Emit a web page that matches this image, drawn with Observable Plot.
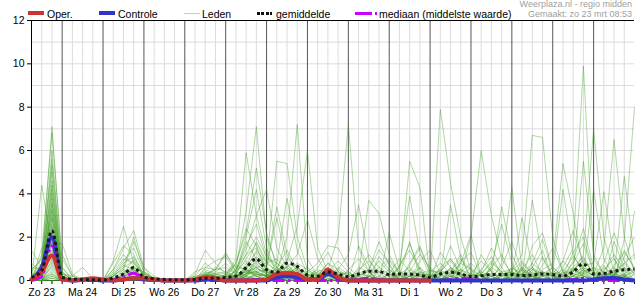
<!DOCTYPE html>
<html><head><meta charset="utf-8">
<script src="https://cdn.jsdelivr.net/npm/d3@7"></script>
<script src="https://cdn.jsdelivr.net/npm/@observablehq/plot@0.6"></script>
<style>
body{margin:0;background:#fff;font-family:"Liberation Sans",Arial,sans-serif;}
#wrap{position:relative;width:635px;height:300px;overflow:hidden;}
#wrap svg{display:block;}
#legend{position:absolute;left:0;top:0;width:635px;height:20px;pointer-events:none;}
.sw{position:absolute;top:12px;height:3px;}
.lt{position:absolute;top:8px;font-size:10.5px;line-height:12px;color:#000;white-space:nowrap;}
.info{position:absolute;right:3px;font-size:9px;line-height:10px;color:#a0a0a0;white-space:nowrap;text-align:right;}
</style></head>
<body><div id="wrap"><div id="legend"></div></div>
<script>
// tijdstappen (uren vanaf zo 23 00:00), 6-uurlijks
const hours = d3.range(60).map(i => 6 + 6 * i);
const dayLabels = ["Zo 23","Ma 24","Di 25","Wo 26","Do 27","Vr 28","Za 29","Zo 30","Ma 31","Di 1","Wo 2","Do 3","Vr 4","Za 5","Zo 6"];
const yTicks = [0,2,4,6,8,10,12];
const legendLabels = ["Oper.","Controle","Leden","gemiddelde","mediaan (middelste waarde)"];
const infoLines = ["Weerplaza.nl - regio midden","Gemaakt: zo 23 mrt 08:53"];

const oper = [0.05,0.4,1.15, 0.05,0,0.05,0.1, 0.05,0,0.05,0.1, 0.1,0.05,0,0, 0,0.05,0.15,0.1, 0,0,0,0, 0.05,0.3,0.35,0.3, 0.05,0.05,0.5,0.15, 0,0,0,0, 0,0,0,0, 0];
const controle = [0.05,0.6,2.0, 0.05,0,0.03,0.05, 0,0,0.05,0.1, 0.05,0.05,0,0, 0,0,0.05,0.05, 0,0,0,0, 0,0.15,0.2,0.15, 0.05,0.05,0.3,0.1, 0,0,0,0, 0,0,0,0, 0,0,0,0, 0,0,0,0, 0,0,0,0, 0,0,0,0, 0.05,0.1,0.12,0.05, 0];
const mediaan = [0,0.2,1.6, 0,0,0,0, 0,0.05,0.15,0.35, 0.05,0,0,0, 0,0,0,0, 0,0,0.05,0.05, 0,0,0,0, 0,0,0,0, 0,0.05,0.1,0.05, 0,0,0,0, 0,0,0.05,0.1, 0.05,0,0,0, 0,0,0,0, 0,0,0.05,0.1, 0,0,0,0, 0];
const gemiddelde = [0.15,0.46,2.3, 0.15,0.06,0.05,0.03, 0.02,0.12,0.3,0.6, 0.15,0.08,0.05,0.03, 0.03,0.05,0.1,0.1, 0.15,0.2,0.6,1.0, 0.5,0.38,0.8,0.65, 0.25,0.2,0.4,0.3, 0.18,0.3,0.43,0.42, 0.28,0.3,0.3,0.25, 0.15,0.3,0.38,0.3, 0.18,0.22,0.28,0.28, 0.28,0.23,0.25,0.3, 0.28,0.2,0.4,0.77, 0.3,0.32,0.43,0.5, 0.52];

const leden = [
[0.2,0.8,7.1, 0.6,0.1,0,0, 0,0,0.3,0.5, 0.2,0,0,0, 0,0,0,0, 0,0.3,1.2,2.0, 1.1,0.5,0.3,0.6, 0.3,0.1,0,0, 0,0.2,0.5,1.4, 0.8,0,0,0.4, 0.2,0.3,1.6,0.5, 0,0,0.2,0.6, 1.8,0.4,0,0, 0,0,0.4,1.0, 0.3,0,0,0.2, 0.5],
[0,1.2,6.8, 1.0,0.2,0.1,0, 0,0.2,0.8,1.1, 0.3,0.1,0,0, 0,0.1,0.5,0.3, 0.2,1.0,5.9,3.0, 1.2,0.6,0.2,0, 0,0,0.2,0.4, 0.3,0,0,1.1, 0.5,0.2,1.8,0.2, 0,0,0,0, 0.1,0.4,1.5,0.6, 0,0,0.5,0.2, 0,0.1,0.9,2.4, 0.6,0.4,1.2,0.5, 0],
[0.1,0.6,6.0, 0.3,0,0,0, 0,0,0.2,0.4, 0,0,0,0, 0,0.2,0.8,0.4, 0.3,0.6,3.2,7.1, 2.0,0.8,0.4,0.2, 0,0,0.1,0, 0,0,0.2,0.6, 1.0,0.4,0,0, 0,0.2,0.6,0.3, 0,1.2,0.4,0, 0.2,0.8,0.3,0, 0,0,0.2,0.5, 0.2,0,0,1.1, 2.0],
[0,0.5,5.6, 0.4,0,0,0, 0,0.5,1.5,2.3, 0.6,0.2,0,0, 0,0,0.3,0.2, 0.1,0.2,0.5,1.4, 0.8,5.5,5.4,2.0, 0.5,0.2,0,0, 0,0,0,0.1, 0.3,0.1,0,0.9, 1.4,0.3,0,0.4, 0.8,0.3,0,0, 0,0,0,0.2, 0.6,0.2,1.3,2.0, 0.4,0,0.3,0.1, 0],
[0.4,1.0,5.3, 0.2,0,0,0, 0,0,0.1,0.3, 0.1,0,0,0, 0,0,0,0, 0,0.4,2.0,4.2, 1.5,0.3,0.9,2.5, 6.0,1.5,0.4,0.1, 0,0,0,0, 0,0,0.2,0.6, 0.2,0,0,0.8, 2.1,0.2,0.5,0, 0,0,0.6,1.4, 0.1,0.4,1.1,0.5, 0,0,0,0, 0],
[0,0.3,5.0, 0.1,0,0,0, 0,0.8,1.6,1.2, 0.2,0,0,0, 0,0,0,0.1, 0.2,0.1,0.6,1.8, 0.9,0.4,2.0,7.2, 1.0,0.2,0,0, 0,0.4,0.2,0, 0,0,0.7,1.5, 0.4,0,0.2,0.5, 0.3,0,0,0, 0,0.2,0.6,0.3, 0,0,0,0, 0,0,0.2,0.8, 1.2],
[0.2,0.4,4.6, 0,0,0,0, 0,0,0.3,0.6, 0.4,0.1,0,0, 0,0.1,0.4,0.2, 0,0,0.2,0.5, 0.4,0.2,0.1,0, 0,0,0.5,2.0, 7.2,1.5,0.4,0, 0,0,0,0.3, 0.5,0.1,0,0, 0,0,0,0.2, 0.4,0.1,1.6,2.2, 0.5,0,0.3,0.6, 0.2,0,0,0, 0],
[0.1,0.7,4.4, 0.2,0,0,0, 0,0,0,0.2, 0,0,0,0, 0,0,0.2,0.6, 0.4,0.2,0.3,1.0, 0.6,3.4,1.2,0.4, 0.2,0,0,0, 0,0.3,3.7,3.1, 1.2,0.3,0,0, 0,0.6,1.0,0.3, 0,0.3,0.8,0.4, 0,0.5,1.2,0.2, 0,0.2,0.5,0.3, 0,0.7,0,0, 0.3],
[0.6,0.5,4.2, 0.3,0.1,0,0, 0,0.2,0.6,0.9, 0.2,0,0,0, 0,0,0,0, 0,0.5,1.6,2.6, 1.0,0.8,3.8,1.4, 0.3,0,0,0, 0,0,0,0.2, 0.5,0.1,0,0, 0,7.9,4.5,2.0, 0.4,0,0,0, 0,0,0,0, 0.2,0,0,0, 0,0.3,0.6,0.2, 0],
[0,0.2,4.0, 0,0,0,0, 0,0,0.2,0.3, 0,0,0,0, 0,0.3,1.4,0.8, 0.3,0.2,0.4,0.9, 0.5,0.2,0,0, 0.4,0.8,1.6,1.5, 0.6,0.2,0,0, 0,0.3,5.5,4.3, 0.1,0,0,0, 0,0,0.6,1.2, 0.2,0.5,0.1,0, 0,0,0,0.4, 0.6,0.2,0,0, 0],
[0.1,0.3,3.8, 0,0,0,0, 0,0.4,1.0,0.8, 0.2,0,0,0, 0,0,0,0.3, 0.2,0,0.3,0.7, 0.4,0.1,0.3,0.5, 0.2,0,0,0, 0,0,0.2,0.4, 0.2,0,0,0, 0,0,0,0.3, 2.0,6.0,3.0,1.0, 0.3,0,0,0, 0,0,0.2,0.1, 0,0,0,0.3, 0.6],
[0,0.1,3.6, 0.1,0,0,0, 0,0,0,0.1, 0,0,0,0, 0,0,0,0, 0.1,0.8,2.2,5.2, 2.2,0.6,0.2,0, 0,0,0,0.2, 0.4,0.1,0,0, 0,0,0.8,1.6, 0.4,0.4,1.0,0.4, 0,0,0,0, 0.4,0.2,3.7,1.0, 0.2,0,0,0, 0,0,1.8,0.6, 0],
[0.3,0.4,3.5, 0,0,0,0, 0,0,0.1,0.2, 0,0,0,0, 0,0,0.2,0.5, 1.2,0.6,0.5,0.3, 0.2,0.5,0.6,0.3, 0,0,0,0, 0,0.5,0.9,0.4, 0,0,0.2,0.3, 0.1,0,0,0, 0,0,0,0.4, 0.5,1.2,6.7,6.6, 2.0,0.4,0,0, 0,0,0,0, 0],
[0,0.2,3.3, 0,0,0,0, 0,0,0.3,0.5, 0.1,0,0,0, 0,0,0,0, 0,0.3,1.0,1.7, 0.8,0.4,0.6,1.2, 2.8,1.0,0.3,0, 0,0,0,0, 0,0,0.4,1.2, 0.6,0.2,0,0, 0,0,0,0, 0,0.3,0.8,0.4, 0,0.6,1.5,9.9, 1.0,0.3,0,0, 0],
[0.1,0.6,3.2, 0.2,0,0,0, 0,0,0,0, 0,0,0,0, 0,0.4,0.6,0.5, 0.6,0.3,0.1,0.2, 0.3,0.1,0,0, 0,0,0,0.5, 1.2,3.5,1.0,0.2, 0,0,0,0, 0,0,0.3,0.8, 0.5,0,0,0, 0,0,0,0, 0.3,0.9,0.4,1.2, 7.0,2.0,0.4,0, 0],
[0,0.3,3.0, 0,0,0,0, 0,0.1,0.4,0.6, 0.3,0.1,0,0, 0,0,0,0, 0,0,0.5,1.1, 0.6,0.3,0.2,0.4, 0.6,0.3,0.1,0, 0,0,0,0, 0.2,0.6,3.9,1.3, 0.2,0,0,0, 0,0.2,0.1,0, 0,0,0,0.5, 0.8,5.4,3.1,0.5, 0,0,0,0, 0],
[0.8,0.4,2.9, 0.1,0,0,0, 0,0.3,0.7,0.5, 0.1,0,0,0, 0,0,0,0, 0.1,0.2,0.4,0.6, 0.8,1.0,0.5,0.2, 0,0,0,0, 0,0.4,1.2,0.6, 0.3,0,0,0, 0,0,0.5,0.2, 0.6,0.2,0,0, 0.1,0.3,0.2,0, 0,0,0.6,1.1, 0.3,1.5,6.5,2.0, 0.4],
[0,0,2.8, 0,0,0,0, 0,0,0,0, 0,0,0,0, 0,0,0.3,0.2, 0,0,0.2,0.9, 0.4,0.2,0.1,0, 0.2,0.4,0.6,0.2, 0,0,0,0, 2.2,0.5,0,0, 0,0,0,0, 0,0.5,1.1,0.3, 0.4,0.9,0.3,0, 0,0,0,0.2, 0.1,0,0.2,1.4, 0.5],
[0.2,0.2,2.6, 0,0,0,0, 0,0.5,1.2,0.7, 0,0,0,0, 0,0.2,0.3,0, 0,0.5,1.4,3.0, 4.2,1.5,0.6,0.2, 0,0,0,0, 0,0.2,0.4,0, 0,0,0,0, 0,0,0.2,0.3, 0.2,0,0,0.8, 4.3,0.5,0,0, 0,0,0,0, 0,0.2,0.4,0.1, 0],
[0,0.2,2.5, 0.2,0,0,0, 0,0,0,0.1, 0,0,0,0, 0,0,0.1,0.4, 0.8,0.3,0.1,0, 0,0,0,0, 0,0.2,0.8,0.5, 0.2,0,0,0, 0,0,0.1,0.3, 0,0.2,3.5,1.0, 0.2,0,0,0, 0,0,0,0.2, 0.4,4.2,1.2,0.3, 0,0,0,0, 0],
[0.1,0.1,2.4, 0,0,0,0, 0,0.2,0.5,0.3, 0.2,0.1,0,0, 0,0,0,0, 0.1,0.2,0.6,1.3, 0.5,0.3,0.5,0.3, 0,0,0,0, 0.5,1.0,0.4,0, 0,0,0,0.2, 0.3,0,0,0, 0,0,0.3,3.4, 1.2,0.2,0,0, 0,0,0,0.5, 0.2,0.8,2.2,0.9, 0.3],
[0,0.5,2.3, 0.3,0.2,0.6,0.1, 0,0,0,0, 0,0,0,0, 0,0,0,0, 0,0.1,0.3,0.8, 0.3,0.1,0.2,0.5, 0.4,0.2,0,0, 0,0,0,0, 0,0.7,1.4,0.5, 0,0,0,0, 0.3,0.9,0.4,0, 0,0,0,0.3, 0.6,0.2,0.4,5.5, 1.2,0.3,0,0, 0],
[0,0.1,2.2, 0,0,0,0, 0,0,0.2,0.4, 0,0,0,0, 0,0,0,0, 0.2,0.4,0.9,0.6, 0.3,0,0,0, 0,0.3,0.4,0.2, 0,0,0,0, 0,0.3,0.6,0.2, 0,1.3,0.6,0, 0,0,0,0, 0.2,0,0.8,1.9, 0.4,0.3,0.5,0.2, 0,0.4,0.2,0, 3.2],
[0,0,2.1, 0,0,0,0, 0,0,0,0, 0,0,0,0, 0,0,0,0.1, 0.3,0.8,2.4,1.6, 0.4,0.2,0,0, 0,0,0,0, 0,0,0.3,0.9, 0.4,0,0,0, 0.4,0.8,0.3,0, 0,0,0,0, 0.3,2.9,0.6,0, 0,0,0,0, 0,0.5,1.0,0.3, 0],
[0.3,0,2.0, 0,0,0,0, 0,0.3,0.9,1.5, 0.4,0,0,0, 0,0,0,0, 0,0,0.1,0.3, 0.2,0.1,0,0, 0,0.6,1.3,0.4, 0,0,0,0, 0,0,0,0, 0,0,0.4,1.0, 0.5,0.2,0,0, 0,0,0,0.7, 1.5,0.4,0,0, 0,0.6,0.3,0, 0],
[0,1.5,1.9, 0.2,0,0,0, 0,0,0.1,0.2, 0,0,0,0, 0,0,0,0, 0,0.2,0.5,0.2, 0,0,0.4,0.8, 0.5,0.2,0,0, 0,0,0,0, 0,0,0.5,0.2, 0,0,0,0.9, 1.3,0.2,0.3,0.2, 0,0,0,0, 0,0,0,0.3, 4.2,1.0,0.2,0, 0],
[0,0.2,1.8, 0,0,0,0, 0,0,0,0, 0,0,0,0, 0,0,0.2,0.1, 0,0,0.5,0.4, 0.2,0.8,0.4,0.1, 0,0,0,0, 0,1.6,0.7,0, 0,0,0,0, 0.2,0.5,0,0, 0,0,0,0, 0,0.3,0.6,0, 0,0,0.2,0.7, 0.8,4.1,1.0,0.2, 0],
[0,0.3,1.7, 1.7,0.3,0,0, 0,0,0,0, 0,0,0,0, 0,0,0,0, 0,0.3,1.8,1.0, 0.3,0,0,0, 0,0,0,0, 0,0,0,0, 0,0,0,0.6, 0,0,0,0.2, 0.3,0,0.7,2.6, 0.8,0,0,0, 0,0.9,2.3,0.8, 0,0,0.3,0.6, 0.2],
[0,0.8,1.6, 0,0,0,0, 0,0,0,0, 0,0,0,0, 0,0,0,0, 0,0,0.2,0.6, 0.3,0.1,0,0, 0,0,0.4,0.9, 0.4,0,0,0, 0,0,0,0, 0,0.4,0.9,0.3, 0,0,0,0, 0,0.6,0.2,0.4, 0.2,0,0,0, 0,0,0.2,4.8, 1.0],
[0,4.4,1.5, 0.4,0,0,0, 0,0,0,0, 0,0,0,0, 0,0,0,0, 0,0,0,0.3, 0.2,0,0,0, 0,0.2,0.5,0.3, 0,0,0,0, 0.3,1.0,0.4,0, 0,0,0,0, 0,0,0.6,0.3, 0,0,0,0, 0,0.2,0.8,1.7, 0.4,0.2,0,1.9, 8.0],
[1.4,0.6,1.4, 0.2,0,0,0, 0,0,0.5,1.8, 0.6,0,0,0, 0,0,0,0, 0,0.2,0.4,0.2, 0,0.6,1.4,0.5, 0,0,0,0, 0,0,0.2,0.1, 0,0,0,0, 0.5,0.3,0,0, 0,0,0,0, 0.3,0.6,0.2,0, 0,0,0,0, 0,0,0.7,1.3, 0.6],
[0,0.8,1.3, 1.2,0.2,0,0, 0,0,0,0, 0,0,0,0, 0,0,0.6,0.9, 1.1,0.4,0.2,0, 0,0,0,0, 0,0.2,0.8,0.3, 0,0,0,0, 0,0,0.3,0.1, 0,0,0,0, 0,0.3,0.9,0.4, 0,0,0,1.1, 0.2,0.5,0.2,0, 0,0,0,0, 0],
[0.5,1.0,1.2, 0,0,0,0, 0,0,0,0, 0,0,0,0, 0,0,0.4,0.3, 0,0,0.8,0.4, 0.2,0.6,0.3,0, 0,0,0,0, 0,0,0,0, 0,0.6,1.7,0.5, 0,0.5,0.2,0, 0,0,0,0, 0,0,0.4,0.2, 0.3,0,0,0.6, 0.3,0,0,0, 0],
[0,0.4,1.1, 0.6,0,0,0, 0,0.9,2.5,0.8, 0.3,0,0,0, 0,0,0,0, 0,0,0.3,0.4, 0,0,0,0, 0,0,0,0.6, 0.3,0,0,0, 0,0,0,0, 0,0,0.4,1.2, 0,0,0.2,0, 0.6,0.3,0,0, 0,0,0,0, 0,0,0.5,0.2, 0],
[0,0,1.0, 0,0,0,0, 0,0,0.3,1.0, 0.2,0,0,0, 0,0,0.3,0.5, 1.3,0.4,0,0, 0,0,0.7,0.3, 0,0,0,0, 0,0,0.5,1.8, 0.7,0,0,0, 0,0,0.3,0.5, 0.2,0,0,0, 0,0,0,0, 0,0,0.5,0.9, 0.4,0,0,0, 0],
[0,0.2,0.9, 0,0,0,0, 0,0.2,0.6,2.0, 0.4,0.1,0,0, 0,0,0,0, 0,0,0,0, 0.6,2.9,0.8,0.2, 0,0,0,0, 0,0,0,0, 0,0.2,0,0, 0,0,0,0, 0,0,0,0.3, 0.4,0,0,0, 0,0.3,0.6,0.2, 0,0.4,0.2,0, 0],
[0.1,0,0.8, 0,0,0,0, 0,0,0,0, 0,0,0,0, 0,0.1,0.2,0.3, 0.4,0.7,0.5,0.2, 0,0,0,0, 0.2,0.5,0.3,0.1, 0,0,0,0, 0,0,0.2,0.4, 0,0,0,0, 0.3,0.2,0,0, 0,0,0,0, 0,0,0,0.3, 0.5,0.2,0,0, 0],
[0,0,0.7, 0,0,0,0, 0,0,0,0, 0,0,0,0, 0,0,0,0, 0.1,0.5,1.2,1.5, 0.6,0.2,0,0, 0,0,0,0, 0,0,0,0.4, 0.9,0.3,0,0, 0,0,0.2,0.1, 0,0,0,0, 0,0,0.5,0.3, 0,0.4,0,0, 0,0.2,0.4,0.8, 0.3],
[0,0.1,0.6, 0,0,0,0, 0,0,0.2,0.5, 0,0,0,0, 0,0,0.2,0.1, 0,0,0,0, 0.2,0.4,1.0,0.6, 0.2,0,0,0, 0,0.6,0.4,0, 0,0,0,0, 0.3,0.1,0,0, 0,0,0,0, 0.2,0.5,0.2,0, 0,0,0,0, 0,0,0.1,0.3, 0],
[0,0,0.5, 0,0,0,0, 0,0,0.1,0.3, 0,0,0,0, 0,0,0,0, 0,0.2,0.3,0.4, 0.2,0,0.3,0.6, 0.3,0,0,0, 0,0,0,0, 0,0,0,0, 0,0,0.6,0.2, 0,0,0,0, 0,0,0,0, 0.2,0,0,0, 0,0,0,0, 0],
[0.2,0,0.4, 0,0,0,0, 0,0,0,0, 0,0,0,0, 0,0,0.1,0.2, 0.2,0.1,0,0, 0,0,0,0, 0,0,0.3,0.4, 0.2,0,0,0, 0,0,0,0, 0,0,0,0, 0,0,0,0.2, 0.6,0.2,0,0, 0,0.2,0,0, 0,0,0,0, 0],
[0,0,0.3, 0,0,0,0, 0,0,0,0, 0,0,0,0, 0,0,0,0, 0,0,0,0.4, 0.5,0.2,0,0, 0,0,0,0, 0,0,0,0, 0.3,0.1,0,0, 0,0,0,0, 0,0,0,0, 0,0,0.3,0.4, 0.2,0,0,0, 0,0,0,0, 0],
[0,0.1,0.3, 0,0,0,0, 0,0,0,0, 0,0,0,0, 0,0,0,0, 0,0,0.2,0.1, 0,0,0,0, 0,0,0.2,0.3, 0.1,0,0,0, 0,0,0,0, 0,0.3,0.5,0.2, 0,0,0,0, 0,0,0,0, 0,0,0,0, 0,0.3,0.2,0, 0],
[0,0,0.2, 0,0,0,0, 0,0,0,0, 0,0,0,0, 0,0,0.3,0.2, 0,0,0,0, 0,0.2,0.2,0, 0,0,0,0, 0,0,0,0, 0,0,0,0, 0,0,0,0, 0.2,0.4,0.2,0, 0,0,0,0, 0,0,0.3,0.2, 0,0,0,0, 0],
[0,0,0.2, 0,0,0,0, 0,0,0,0, 0,0,0,0, 0,0,0,0, 0,0,0.3,0.6, 0.2,0,0,0, 0,0,0,0, 0,0.3,0.2,0, 0,0,0,0, 0,0,0,0, 0,0,0,0, 0,0,0.2,0.1, 0,0,0,0, 0,0,0,0.2, 0.4],
[0,0,0.1, 0,0,0,0, 0,0,0,0, 0,0,0,0, 0,0,0,0, 0,0,0,0, 0,0.3,0.4,0.1, 0,0,0,0, 0,0,0,0, 0,0,0,0, 0,0,0.2,0, 0,0,0,0.2, 0.3,0,0,0, 0,0,0,0, 0,0,0,0, 0],
[0,0,0.1, 0,0,0,0, 0,0,0,0, 0,0,0,0, 0,0,0,0, 0,0,0,0, 0,0,0,0, 0,0.4,0.2,0, 0,0,0,0, 0,0.4,0.2,0, 0,0,0,0, 0,0,0,0, 0,0,0,0, 0,0,0.2,0.4, 0,0,0,0, 0],
[0,0,0, 0,0,0,0, 0,0,0,0, 0,0,0,0, 0,0,0,0, 0,0.2,0.4,0.3, 0,0,0,0, 0,0,0,0, 0,0.2,0,0, 0,0,0,0, 0,0,0,0, 0,0.3,0.2,0, 0,0,0,0, 0,0,0,0, 0,0,0,0, 0],
[0,0,0, 0,0,0,0, 0,0,0,0, 0,0,0,0, 0,0,0,0, 0,0,0,0, 0.2,0,0,0, 0,0,0,0, 0,0,0,0, 0,0,0,0, 0.2,0.1,0,0, 0,0,0,0, 0,0,0,0, 0,0,0,0, 0,0.2,0.3,0.2, 0],
[0,0,0, 0,0,0,0, 0,0,0,0, 0,0,0,0, 0,0.2,0,0, 0,0,0,0, 0,0,0,0, 0,0,0,0, 0,0,0,0, 0,0,0.2,0, 0,0,0,0, 0,0,0,0, 0,0.2,0.1,0, 0,0,0,0, 0,0,0,0, 0]
];

const rows = (arr, key) => arr.map((v, i) => ({h: hours[i], v, k: key}));
const memberRows = leden.flatMap((m, j) => rows(m, j));
const dayMid = dayLabels.map((_, i) => 12 + 24 * i);
const dayBounds = dayLabels.slice(1).map((_, i) => 24 * (i + 1));
const labelOf = new Map(dayMid.map((h, i) => [h, dayLabels[i]]));

const chart = Plot.plot({
  width: 635, height: 300,
  marginLeft: 31, marginRight: 1, marginTop: 20, marginBottom: 20,
  style: {fontFamily: '"Liberation Sans", Arial, sans-serif', fontSize: "10.5px", color: "#000", background: "transparent", overflow: "visible"},
  x: {domain: [6, 360]},
  y: {domain: [0, 12]},
  marks: [
    Plot.ruleY(d3.range(1, 12), {stroke: "#dcdcdc"}),
    Plot.ruleX(hours.filter(h => h % 24 !== 0), {stroke: "#dcdcdc"}),
    Plot.ruleX(dayBounds, {stroke: "#555"}),
    Plot.ruleY([12], {stroke: "#000"}),
    Plot.ruleX([6], {stroke: "#000"}),
    Plot.ruleY([0], {stroke: "#000"}),
    Plot.axisY({ticks: yTicks, tickSize: 4, tickPadding: 3, label: null}),
    Plot.axisX({ticks: hours, tickSize: 4, tickFormat: () => "", label: null}),
    Plot.axisX({ticks: dayMid, tickSize: 0, tickPadding: 8, tickFormat: d => labelOf.get(d), label: null}),
    Plot.line(memberRows, {x: "h", y: "v", z: "k", stroke: "#3c9a1e", strokeOpacity: 0.4, strokeWidth: 1}),
    Plot.line(rows(mediaan, "med"), {x: "h", y: "v", stroke: "#cc00ff", strokeWidth: 3, strokeDasharray: "12,3,3,3", strokeLinecap: "butt", curve: "monotone-x"}),
    Plot.line(rows(controle, "ctl"), {x: "h", y: "v", stroke: "#3333cc", strokeWidth: 4, curve: "monotone-x"}),
    Plot.line(rows(oper, "op"), {x: "h", y: "v", stroke: "#cc3333", strokeWidth: 4, curve: "monotone-x"}),
    Plot.line(rows(gemiddelde, "mean"), {x: "h", y: "v", stroke: "#1a1a1a", strokeWidth: 3, strokeDasharray: "3,3", strokeLinecap: "butt", curve: "monotone-x"})
  ]
});
document.getElementById("wrap").prepend(chart);

// legend (HTML)
const sw = [
  {left: 28, width: 16, css: "background:#cc3333;height:4px;top:11px"},
  {left: 99, width: 16, css: "background:#3333cc;height:4px;top:11px"},
  {left: 184, width: 16, css: "background:#b8d8ab;height:1px;top:13px"},
  {left: 257, width: 15, css: "background:repeating-linear-gradient(90deg,#111 0 3px,transparent 3px 4.5px);height:3px;top:12px"},
  {left: 355, width: 23, css: "background:linear-gradient(90deg,#cc00ff 0 17px,transparent 17px 20px,#cc00ff 20px 22px,transparent 22px);height:3px;top:12px"}
];
const textLeft = [47, 118, 202, 276, 379];
const leg = document.getElementById("legend");
legendLabels.forEach((t, i) => {
  const s = document.createElement("div");
  s.className = "sw";
  s.style.cssText = `left:${sw[i].left}px;width:${sw[i].width}px;` + sw[i].css;
  leg.appendChild(s);
  const l = document.createElement("div");
  l.className = "lt";
  l.style.left = textLeft[i] + "px";
  l.textContent = t;
  leg.appendChild(l);
});
infoLines.forEach((t, i) => {
  const d = document.createElement("div");
  d.className = "info";
  d.style.top = (i === 0 ? -1 : 9) + "px";
  d.textContent = t;
  leg.appendChild(d);
});
</script>
</body></html>
